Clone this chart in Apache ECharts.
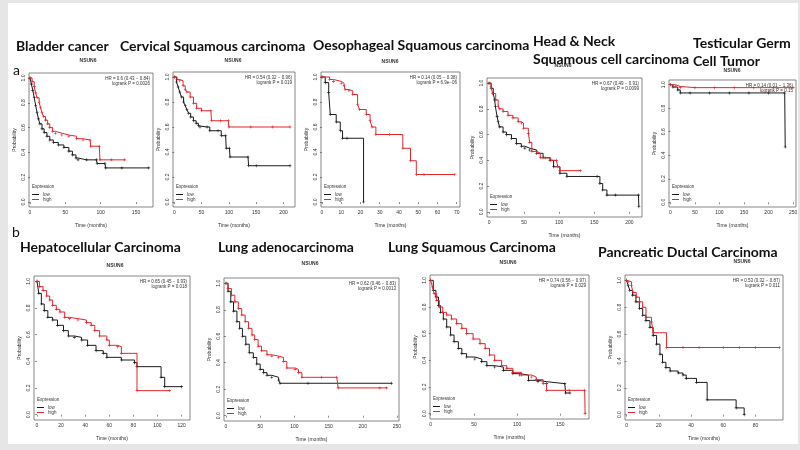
<!DOCTYPE html>
<html><head><meta charset="utf-8">
<script src="https://cdn.jsdelivr.net/npm/echarts@6/dist/echarts.min.js"></script>
<style>html,body{margin:0;padding:0;background:#fff}#c{width:800px;height:450px}</style>
</head><body><div id="c"></div>
<script>
// ---- data (months, survival probability) ----
const bladderLow = [[0,1],[2,0.95],[4,0.9],[6,0.84],[8,0.78],[10,0.72],[12,0.67],[14,0.63],[17,0.59],[20,0.56],[24,0.53],[28,0.50],[33,0.48],[40,0.46],[48,0.44],[55,0.41],[60,0.38],[65,0.355],[68,0.34],[80,0.34],[94,0.34],[95,0.31],[106,0.31],[107,0.275],[130,0.275],[168,0.275]];
const bladderHigh = [[0,1],[3,0.97],[6,0.93],[8,0.88],[10,0.84],[13,0.80],[15,0.76],[17,0.72],[19,0.69],[22,0.66],[25,0.63],[28,0.60],[32,0.57],[36,0.555],[45,0.54],[55,0.53],[66,0.51],[75,0.50],[85,0.50],[86,0.45],[98,0.45],[99,0.34],[115,0.34],[134,0.34]];
const cervicalLow = [[0,1],[4,0.96],[7,0.92],[10,0.88],[13,0.84],[17,0.80],[20,0.77],[23,0.74],[26,0.71],[30,0.68],[35,0.65],[40,0.63],[44,0.61],[47,0.60],[60,0.60],[65,0.57],[80,0.57],[86,0.53],[94,0.53],[95,0.43],[101,0.43],[102,0.36],[135,0.36],[136,0.29],[150,0.29],[212,0.29]];
const cervicalHigh = [[0,1],[5,0.98],[10,0.97],[16,0.93],[20,0.90],[23,0.88],[29,0.84],[35,0.79],[41,0.75],[50,0.73],[67,0.73],[68,0.65],[85,0.65],[99,0.65],[100,0.60],[140,0.60],[180,0.60],[212,0.60]];
const oesoLow = [[0,1],[1.7,0.955],[3.5,0.875],[4.3,0.70],[7.4,0.64],[9.5,0.57],[10.7,0.51],[13,0.51],[21.6,0]];
const oesoHigh = [[0,1],[4,0.98],[6,0.965],[10,0.95],[11.5,0.93],[12,0.90],[14,0.89],[16,0.86],[18.5,0.78],[19.5,0.74],[23,0.70],[25,0.65],[26,0.60],[28,0.54],[35,0.54],[42,0.43],[46,0.33],[49,0.22],[53,0.22],[69,0.22]];
const headNeckLow = [[0,1],[3,0.96],[6,0.92],[8,0.87],[9,0.82],[11.5,0.74],[13,0.70],[15,0.66],[20,0.62],[25,0.60],[32,0.57],[39,0.53],[46,0.51],[51,0.495],[58,0.48],[68,0.455],[77,0.42],[87,0.40],[92,0.35],[101,0.30],[111,0.275],[154,0.275],[158,0.22],[162,0.17],[168,0.13],[180,0.13],[213,0.13],[213.5,0.04]];
const headNeckHigh = [[0,1],[3,0.97],[5,0.92],[9.5,0.87],[13,0.82],[15,0.80],[20,0.78],[27,0.75],[34,0.73],[41.5,0.70],[46,0.69],[49,0.65],[56,0.61],[58,0.54],[61,0.47],[68,0.455],[73,0.42],[80,0.42],[88,0.40],[96,0.40],[98,0.35],[101,0.32],[130,0.32]];
const testicularLow = [[0,1],[5,0.98],[15,0.955],[20,0.93],[40,0.93],[80,0.93],[120,0.93],[160,0.93],[200,0.93],[233,0.93],[234,0.47]];
const testicularHigh = [[0,1],[10,0.985],[20,0.975],[50,0.975],[90,0.975],[130,0.975],[170,0.975],[210,0.975],[250,0.975]];
const hepatoLow = [[0,1],[1.5,0.91],[3.6,0.83],[6,0.78],[9,0.73],[13,0.71],[17,0.67],[22,0.63],[26,0.59],[31,0.58],[37,0.56],[42,0.52],[49,0.48],[55,0.46],[58,0.43],[70,0.41],[81,0.39],[83,0.36],[103,0.28],[106,0.21],[120,0.21]];
const hepatoHigh = [[0,1],[2,0.96],[5,0.93],[8,0.89],[10.5,0.86],[13,0.82],[16,0.79],[19,0.77],[23,0.73],[27,0.72],[34,0.71],[41,0.69],[45,0.67],[48,0.63],[52,0.59],[58,0.56],[60,0.52],[67,0.51],[70,0.46],[83,0.18],[110,0.18]];
const lungAdenoLow = [[0,1],[3,0.94],[7,0.86],[11,0.79],[16,0.71],[20,0.66],[24,0.60],[29,0.54],[34,0.475],[40,0.44],[45,0.39],[50,0.35],[55,0.325],[60,0.305],[67,0.29],[77,0.27],[79,0.245],[120,0.245],[242,0.245]];
const lungAdenoHigh = [[0,1],[3,0.96],[8,0.91],[13,0.86],[18,0.81],[23,0.76],[28,0.71],[33,0.66],[38,0.61],[42,0.575],[47,0.525],[52,0.49],[60,0.46],[67,0.45],[77,0.44],[84,0.41],[89,0.36],[101,0.35],[106,0.325],[111,0.29],[140,0.29],[162,0.29],[164,0.21],[225,0.21],[235,0.21]];
const lungSqLow = [[0,1],[3,0.925],[6,0.875],[9,0.81],[11.5,0.76],[14.6,0.71],[18.5,0.65],[23,0.59],[27,0.54],[32,0.49],[36,0.45],[41.5,0.425],[51,0.41],[59,0.39],[65,0.36],[74,0.35],[84,0.325],[95,0.30],[103,0.29],[113,0.25],[124,0.24],[134,0.225],[155,0.225],[156,0.155],[161,0.155]];
const lungSqHigh = [[0,1],[2,0.95],[4,0.90],[7,0.85],[10,0.80],[14,0.76],[18.5,0.74],[24,0.71],[30,0.675],[36,0.64],[41.5,0.60],[49,0.56],[57,0.525],[63,0.49],[68,0.44],[74,0.40],[82,0.36],[88,0.34],[95,0.31],[105,0.29],[116.5,0.275],[122,0.255],[130,0.225],[134,0.175],[160,0.175],[178,0.175],[178.5,0]];
const pancLow = [[0,1],[1,0.96],[2,0.925],[3.7,0.89],[5.8,0.84],[7.9,0.79],[10,0.74],[12,0.70],[14.5,0.65],[16.5,0.59],[18.6,0.525],[20.7,0.45],[22.3,0.39],[24.4,0.35],[27,0.325],[32,0.31],[35,0.295],[37,0.27],[43.4,0.24],[50,0.11],[68,0.05],[73,0]];
const pancHigh = [[0,1],[1,0.99],[3,0.96],[4,0.91],[6,0.875],[8,0.84],[10,0.80],[12,0.725],[15.5,0.69],[16.5,0.61],[24.8,0.50],[35,0.50],[45,0.50],[60,0.50],[70,0.50],[80,0.50],[95,0.50]];

const lowSeries = [bladderLow, cervicalLow, oesoLow, headNeckLow, testicularLow, hepatoLow, lungAdenoLow, lungSqLow, pancLow];
const highSeries = [bladderHigh, cervicalHigh, oesoHigh, headNeckHigh, testicularHigh, hepatoHigh, lungAdenoHigh, lungSqHigh, pancHigh];

const titleLines = [['Bladder cancer'],['Cervical Squamous carcinoma'],['Oesophageal Squamous carcinoma'],['Head & Neck','Squamous cell carcinoma'],['Testicular Germ','Cell Tumor'],['Hepatocellular Carcinoma'],['Lung adenocarcinoma'],['Lung Squamous Carcinoma'],['Pancreatic Ductal Carcinoma']];
const hrLines = [
  ['HR = 0.6 (0.43 \u2212 0.84)','logrank P = 0.0026'],
  ['HR = 0.54 (0.32 \u2212 0.96)','logrank P = 0.019'],
  ['HR = 0.14 (0.05 \u2212 0.38)','logrank P = 6.9e\u221206'],
  ['HR = 0.67 (0.49 \u2212 0.91)','logrank P = 0.0099'],
  ['HR = 0.14 (0.01 \u2212 1.36)','logrank P = 0.15'],
  ['HR = 0.65 (0.45 \u2212 0.93)','logrank P = 0.018'],
  ['HR = 0.62 (0.46 \u2212 0.83)','logrank P = 0.0013'],
  ['HR = 0.74 (0.56 \u2212 0.97)','logrank P = 0.029'],
  ['HR = 0.53 (0.32 \u2212 0.87)','logrank P = 0.011']];
const geneLabel = 'NSUN6';
const xTicks = [[0,50,100,150],[0,50,100,150,200],[0,10,20,30,40,50,60,70],[0,50,100,150,200],[0,50,100,150,200,250],[0,20,40,60,80,100,120],[0,50,100,150,200,250],[0,50,100,150],[0,20,40,60,80]];
const yTicks = [0,0.2,0.4,0.6,0.8,1.0];
const seriesNames = ['low','high'];

// ---- layout (pixels) ----
const boxes = [[29,73,153,207],[173,72,295,207],[321,72,460,207],[487,78,642,217],[669,80,796,207],[34,276,190,420],[224,278,399,421],[430,275,589,419],[625,275,783,420]];
const xRanges = [[-1.4,174],[-2.4,221],[-0.5,71.7],[-2.9,218],[-2.9,256],[-2.5,127],[-2.9,253],[-0.8,183],[-1.0,97.1]];
const titlePos = [[16,46],[120,46],[313,45],[533,41],[693,43],[20,247],[218,247],[388,247],[598,252]];
const genePos = [[88,61],[233,61],[390,62],[563,66],[732,71],[115,266],[310,264],[508,263],[742,262]];

const RED = '#e3262d', BLACK = '#1c1c1c';
const plus = 'path://M2,0H3V2H5V3H3V5H2V3H0V2H2Z';

const grid = [], xAxis = [], yAxis = [], series = [], legend = [], graphic = [];
// slide frame
graphic.push({type:'rect', shape:{x:0,y:0,width:8,height:450}, style:{fill:'#e6e6e6'}, silent:true});
graphic.push({type:'rect', shape:{x:0,y:0,width:800,height:3}, style:{fill:'#e6e6e6'}, silent:true});
graphic.push({type:'rect', shape:{x:798,y:0,width:2,height:450}, style:{fill:'#e6e6e6'}, silent:true});
graphic.push({type:'rect', shape:{x:0,y:444,width:800,height:6}, style:{fill:'#e6e6e6'}, silent:true});
graphic.push({type:'text', x:13, y:70, style:{text:'a', fontSize:14, fontFamily:'Lato', fill:'#111', align:'left', verticalAlign:'middle'}});
graphic.push({type:'text', x:12, y:232, style:{text:'b', fontSize:14, fontFamily:'Lato', fill:'#111', align:'left', verticalAlign:'middle'}});

boxes.forEach((b, i) => {
  const [x1,y1,x2,y2] = b;
  grid.push({left:x1, top:y1, width:x2-x1, height:y2-y1, show:true, borderColor:'#555', borderWidth:0.7, backgroundColor:'#fff', containLabel:false, outerBoundsMode:'none'});
  xAxis.push({gridIndex:i, type:'value', min:xRanges[i][0], max:xRanges[i][1],
    axisLine:{show:false}, splitLine:{show:false},
    axisTick:{show:true, length:2, lineStyle:{color:'#444', width:0.6}, customValues:xTicks[i]},
    axisLabel:{fontSize:5, color:'#333', margin:3, customValues:xTicks[i], formatter:v=>String(v)},
    name:'Time (months)', nameLocation:'middle', nameGap:16, nameTextStyle:{fontSize:5, color:'#333'}});
  yAxis.push({gridIndex:i, type:'value', min:-0.04, max:1.04,
    axisLine:{show:false}, splitLine:{show:false},
    axisTick:{show:true, length:2, lineStyle:{color:'#444', width:0.6}, customValues:yTicks},
    axisLabel:{fontSize:5, color:'#333', margin:3, rotate:90, customValues:yTicks, formatter:v=>v.toFixed(1)},
    name:'Probability', nameLocation:'middle', nameGap:12, nameTextStyle:{fontSize:5, color:'#333'}});
  [lowSeries[i], highSeries[i]].forEach((d, k) => {
    const col = k === 0 ? BLACK : RED;
    series.push({type:'line', name:seriesNames[k], xAxisIndex:i, yAxisIndex:i, data:d, step:'end',
      symbol:plus, symbolSize:3, showSymbol:true, showAllSymbol:true,
      lineStyle:{width:1, color:col}, itemStyle:{color:col}, animation:false, silent:true, z:k===0?2:3});
  });
  legend.push({left:x1+3, top:y2-15, orient:'vertical', itemGap:0, itemWidth:7, itemHeight:1, icon:'rect', padding:0,
    data:seriesNames, textStyle:{fontSize:4.5, color:'#333', padding:[0,0,0,-1]}, selectedMode:false});
  graphic.push({type:'text', x:x1+3, y:y2-20, style:{text:'Expression', fontSize:4.5, fill:'#333', align:'left', verticalAlign:'middle'}});
  graphic.push({type:'text', x:x2-3, y:y1+6, style:{text:hrLines[i][0], fontSize:4.5, fill:'#333', align:'right', verticalAlign:'middle'}});
  graphic.push({type:'text', x:x2-3, y:y1+11, style:{text:hrLines[i][1], fontSize:4.5, fill:'#333', align:'right', verticalAlign:'middle'}});
  graphic.push({type:'text', x:genePos[i][0], y:genePos[i][1], style:{text:geneLabel, fontSize:5, fontWeight:'bold', fill:'#333', align:'center', verticalAlign:'middle'}});
  titleLines[i].forEach((t, j) => {
    graphic.push({type:'text', x:titlePos[i][0], y:titlePos[i][1] + j*18, style:{text:t, fontSize:14, fontWeight:'bold', fontFamily:'Lato', fill:'#111', align:'left', verticalAlign:'middle'}});
  });
});

const chart = echarts.init(document.getElementById('c'), null, {renderer:'canvas'});
chart.setOption({animation:false, backgroundColor:'#fff', grid, xAxis, yAxis, series, legend, graphic});
</script></body></html>
